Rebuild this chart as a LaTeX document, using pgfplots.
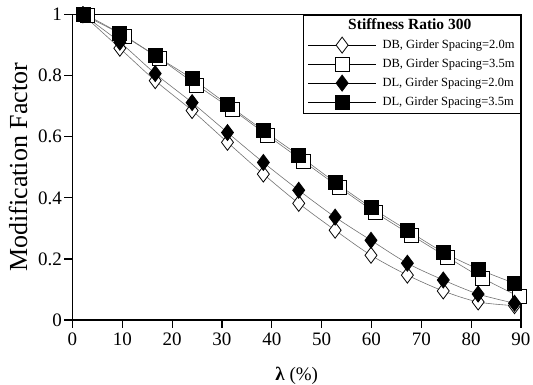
\documentclass[border=0pt]{standalone}
\usepackage{fontspec}
\setmainfont{Liberation Serif}
\usepackage{pgfplots}
\pgfplotsset{compat=1.18}
\pgfplotstableread{
x     y
2.1   1.000
9.5   0.890
16.6  0.784
24.0  0.686
31.1  0.582
38.3  0.478
45.4  0.382
52.7  0.294
59.9  0.212
67.2  0.147
74.4  0.095
81.4  0.059
88.7  0.047
}\dbtwo
\pgfplotstableread{
x     y
2.9   0.998
10.5  0.930
17.5  0.856
24.9  0.770
32.0  0.690
39.1  0.605
46.3  0.520
53.5  0.435
60.7  0.353
68.0  0.278
75.2  0.206
82.3  0.137
89.6  0.077
}\dbthree
\pgfplotstableread{
x     y
2.1   1.000
9.5   0.910
16.6  0.807
24.0  0.712
31.1  0.614
38.3  0.516
45.4  0.425
52.7  0.337
59.9  0.261
67.2  0.186
74.4  0.131
81.4  0.085
88.7  0.055
}\dltwo
\pgfplotstableread{
x     y
2.1   1.000
9.5   0.938
16.6  0.866
24.0  0.790
31.1  0.706
38.3  0.621
45.4  0.539
52.7  0.451
59.9  0.369
67.2  0.294
74.4  0.222
81.4  0.167
88.7  0.120
}\dlthree
\begin{document}
\begin{tikzpicture}
\useasboundingbox (0,0) rectangle (533pt,385pt);
\begin{axis}[
  at={(72.5pt,65pt)}, anchor=south west,
  scale only axis, width=448.5pt, height=305.3pt,
  xmin=0, xmax=90, ymin=0, ymax=1,
  xtick={0,10,...,90}, ytick={0,0.2,...,1},
  xtick pos=left, ytick pos=left, tick align=outside,
  major tick length=8pt,
  axis line style={line width=1.2pt},
  every tick/.style={black, line width=1.2pt},
  /pgf/number format/assume math mode=true,
  tick label style={font=\fontsize{19}{19}\selectfont},
  yticklabel style={xshift=1pt},
  xticklabel style={yshift=-1pt},
  xlabel={\textbf{λ} (\%)},
  ylabel={Modification Factor},
  xlabel style={at={(axis description cs:0.5,0)}, anchor=center, yshift=-56pt, font=\fontsize{19}{19}\selectfont},
  ylabel style={at={(axis description cs:0,0.5)}, anchor=center, yshift=54.5pt, font=\fontsize{26}{26}\selectfont},
  clip=false,
  legend cell align=left,
  legend style={at={(1,1)}, anchor=north east, draw=black, line width=0.9pt,
    font=\fontsize{12.5}{12.5}\selectfont, inner xsep=4pt, inner ysep=3pt,
    row sep=3pt, column sep=4pt,
    nodes={text height=9pt, text depth=3pt}},
  legend image code/.code={\draw[black, line width=0.8pt, mark repeat=2, mark phase=2] plot coordinates {(0pt,0pt) (34pt,0pt) (68pt,0pt)};},
]
\addlegendimage{empty legend}
\addlegendentry{\makebox[0pt][l]{\hspace*{27.3pt}\makebox[0pt][c]{\fontsize{15.5}{15.5}\selectfont\bfseries Stiffness Ratio 300}}}
\addplot[smooth, color=black!55, line width=0.6pt, mark=diamond*, mark size=8pt, mark options={solid, draw=black, fill=white, line width=0.8pt}] table {\dbtwo};
\addlegendentry{DB, Girder Spacing=2.0m}
\addplot[smooth, color=black!55, line width=0.6pt, mark=square*, mark size=7pt, mark options={solid, draw=black, fill=white, line width=0.8pt}] table {\dbthree};
\addlegendentry{DB, Girder Spacing=3.5m}
\addplot[smooth, color=black!55, line width=0.6pt, mark=diamond*, mark size=8pt, mark options={solid, draw=black, fill=black, line width=0.8pt}] table {\dltwo};
\addlegendentry{DL, Girder Spacing=2.0m}
\addplot[smooth, color=black!55, line width=0.6pt, mark=square*, mark size=7pt, mark options={solid, draw=black, fill=black, line width=0.8pt}] table {\dlthree};
\addlegendentry{DL, Girder Spacing=3.5m}
\end{axis}
\end{tikzpicture}
\end{document}
